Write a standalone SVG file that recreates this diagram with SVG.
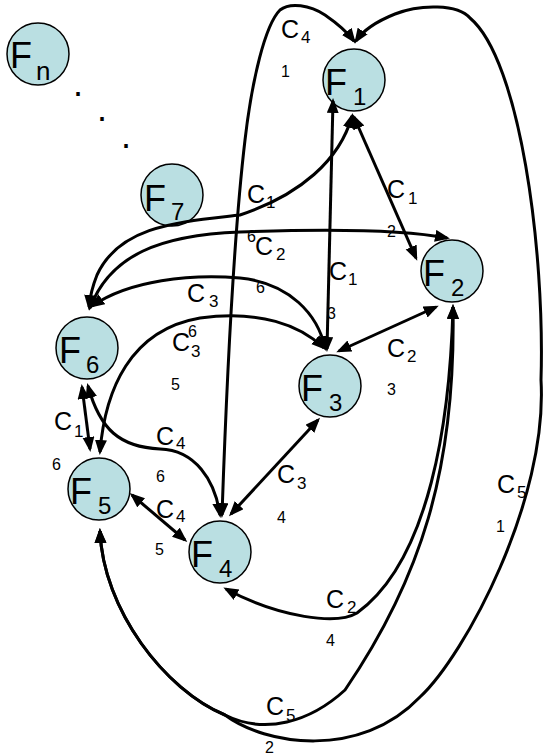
<svg xmlns="http://www.w3.org/2000/svg" width="543" height="755" viewBox="0 0 543 755">
<style>
.node circle{fill:#BADFE2;stroke:#000;stroke-width:1.5}
.nl{font-family:"Liberation Sans",Arial,sans-serif;font-size:36px;fill:#000}
.ns{font-size:24px}
.lab{font-family:"Liberation Sans",Arial,sans-serif;font-size:25px;fill:#000}
.sub{font-size:17px}
.num{font-family:"Liberation Sans",Arial,sans-serif;font-size:16px;fill:#000}
.dot{font-family:"Liberation Sans",Arial,sans-serif;font-size:36px;fill:#000}
#connectors path{fill:none;stroke:#000;stroke-width:3;marker-start:url(#ah);marker-end:url(#ah)}
</style>
<defs>
<marker id="ah" markerUnits="userSpaceOnUse" markerWidth="16" markerHeight="13" refX="12" refY="6" orient="auto-start-reverse">
<path d="M0,0 L15,6 L0,12 z" fill="#000"/>
</marker>
</defs>
<rect width="543" height="755" fill="#fff"/>
<g id="nodes">
<g id="Fn" class="node"><circle cx="38" cy="54" r="31"/><text class="nl" x="10" y="68">F</text><text class="nl ns" x="36" y="80" style="font-size:26px">n</text></g>
<g id="F1" class="node"><circle cx="354" cy="80" r="31"/><text class="nl" x="325" y="95">F</text><text class="nl ns" x="353" y="105">1</text></g>
<g id="F7" class="node"><circle cx="172" cy="195" r="31"/><text class="nl" x="144" y="211">F</text><text class="nl ns" x="171" y="220">7</text></g>
<g id="F6" class="node"><circle cx="87" cy="348" r="31"/><text class="nl" x="59" y="363">F</text><text class="nl ns" x="86" y="373">6</text></g>
<g id="F2" class="node"><circle cx="452" cy="271" r="31"/><text class="nl" x="423" y="286">F</text><text class="nl ns" x="451" y="296">2</text></g>
<g id="F3" class="node"><circle cx="330" cy="386" r="31"/><text class="nl" x="301" y="401">F</text><text class="nl ns" x="329" y="411">3</text></g>
<g id="F5" class="node"><circle cx="99" cy="489" r="31"/><text class="nl" x="70" y="504">F</text><text class="nl ns" x="98" y="514">5</text></g>
<g id="F4" class="node"><circle cx="220" cy="552" r="31"/><text class="nl" x="191" y="567">F</text><text class="nl ns" x="219" y="577">4</text></g>
</g>
<g id="dots">
<text class="dot" x="73" y="96">.</text>
<text class="dot" x="97" y="121">.</text>
<text class="dot" x="121" y="148">.</text>
</g>
<g id="connectors">
<path d="M222,515 C226,400 232,250 245,140 C252,80 265,25 280,10 C290,2 310,5 325,15 C338,24 348,33 354,41"/>
<path d="M100,531 C103,610 165,690 225,715 C265,745 360,760 420,697 C465,655 548,500 541,380 C545,250 520,60 470,18 C458,4 420,4 395,14 C375,22 362,32 356,41"/>
<path d="M453,307 C456,470 420,580 345,690 C310,722 265,735 225,715 C165,690 103,610 100,531"/>
<path d="M453,307 C450,420 430,560 357,613 C337,625 280,618 226,589"/>
<path d="M354,117 L416,258"/>
<path d="M333,101 L327,349"/>
<path d="M352,116 C340,160 300,195 240,215 C180,222 120,225 97,275 C93,285 90,297 89,307"/>
<path d="M90,308 C110,255 160,235 240,232 C320,229 400,229 447,238"/>
<path d="M92,306 C130,280 190,274 240,278 C290,283 318,315 325,348"/>
<path d="M100,452 C105,390 130,330 200,318 C260,310 300,325 324,348"/>
<path d="M82,387 L90,449"/>
<path d="M88,386 C100,430 120,447 160,449 C195,450 215,480 220,515"/>
<path d="M132,495 L185,540"/>
<path d="M231,514 L318,420"/>
<path d="M339,351 L436,307"/>
</g>
<g id="labels">
<text class="lab" x="281" y="38">C<tspan class="sub" x="301" y="43">4</tspan></text>
<text class="num" x="281" y="77">1</text>
<text class="lab" x="247" y="203">C<tspan class="sub" x="266" y="208">1</tspan></text>
<text class="num" x="247" y="242">6</text>
<text class="lab" x="255" y="255">C<tspan class="sub" x="276" y="260">2</tspan></text>
<text class="num" x="387" y="237">2</text>
<text class="lab" x="387" y="198">C<tspan class="sub" x="408" y="204">1</tspan></text>
<text class="lab" x="329" y="280">C<tspan class="sub" x="348" y="285">1</tspan></text>
<text class="num" x="327" y="319">3</text>
<text class="lab" x="187" y="302">C<tspan class="sub" x="209" y="307">3</tspan></text>
<text class="num" x="256" y="293">6</text>
<text class="lab" x="172" y="351">C<tspan class="sub" x="191" y="357">3</tspan></text>
<text class="num" x="188" y="337">6</text>
<text class="num" x="171" y="390">5</text>
<text class="lab" x="387" y="357">C<tspan class="sub" x="407" y="362">2</tspan></text>
<text class="num" x="387" y="395">3</text>
<text class="lab" x="54" y="430">C<tspan class="sub" x="74" y="437">1</tspan></text>
<text class="num" x="52" y="470">6</text>
<text class="lab" x="156" y="445">C<tspan class="sub" x="176" y="449">4</tspan></text>
<text class="num" x="156" y="482">6</text>
<text class="lab" x="156" y="518">C<tspan class="sub" x="176" y="522">4</tspan></text>
<text class="num" x="155" y="555">5</text>
<text class="lab" x="277" y="483">C<tspan class="sub" x="297" y="489">3</tspan></text>
<text class="num" x="277" y="523">4</text>
<text class="lab" x="326" y="608">C<tspan class="sub" x="347" y="613">2</tspan></text>
<text class="num" x="326" y="646">4</text>
<text class="lab" x="497" y="493">C<tspan class="sub" x="517" y="498">5</tspan></text>
<text class="num" x="496" y="532">1</text>
<text class="lab" x="266" y="715">C<tspan class="sub" x="286" y="721">5</tspan></text>
<text class="num" x="265" y="753">2</text>
</g>
</svg>
